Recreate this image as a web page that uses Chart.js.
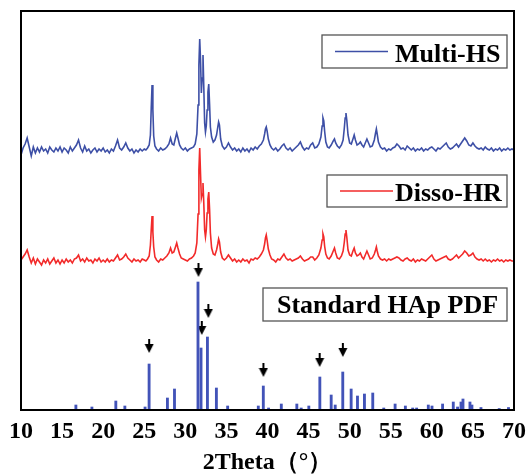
<!DOCTYPE html>
<html>
<head>
<meta charset="utf-8">
<script src="https://cdn.jsdelivr.net/npm/chart.js@4/dist/chart.umd.min.js"></script>
<style>
  html, body { margin: 0; padding: 0; background: #fff; overflow: hidden; }
  #wrap { width: 529px; height: 475px; }
</style>
</head>
<body>
<div id="wrap"><canvas id="xrd"></canvas></div>
<script>
// 2Theta grid shared by the two measured patterns (rows of ten)
const twoTheta = [
  10.0, 10.25, 10.5, 10.75, 11.0, 11.25, 11.5, 11.75, 12.0, 12.25,
  12.5, 12.75, 13.0, 13.25, 13.5, 13.75, 14.0, 14.25, 14.5, 14.75,
  15.0, 15.25, 15.5, 15.75, 16.0, 16.25, 16.5, 16.75, 17.0, 17.25,
  17.5, 17.75, 18.0, 18.25, 18.5, 18.75, 19.0, 19.25, 19.5, 19.75,
  20.0, 20.25, 20.5, 20.75, 21.0, 21.25, 21.5, 21.75, 22.0, 22.25,
  22.5, 22.75, 23.0, 23.25, 23.5, 23.75, 24.0, 24.25, 24.5, 24.75,
  25.0, 25.2, 25.4, 25.6, 25.75, 25.85, 25.95, 26.05, 26.15, 26.3,
  26.5, 26.75, 27.0, 27.25, 27.5, 27.75, 28.0, 28.2, 28.4, 28.6,
  28.8, 28.95, 29.1, 29.3, 29.5, 29.75, 30.0, 30.25, 30.5, 30.75,
  31.0, 31.2, 31.4, 31.55, 31.65, 31.75, 31.85, 31.95, 32.05, 32.15,
  32.25, 32.35, 32.45, 32.55, 32.65, 32.75, 32.85, 32.95, 33.05, 33.2,
  33.4, 33.6, 33.8, 33.95, 34.05, 34.15, 34.3, 34.5, 34.75, 35.0,
  35.25, 35.5, 35.75, 36.0, 36.25, 36.5, 36.75, 37.0, 37.25, 37.5,
  37.75, 38.0, 38.25, 38.5, 38.75, 39.0, 39.25, 39.5, 39.65, 39.75,
  39.85, 39.95, 40.1, 40.3, 40.5, 40.75, 41.0, 41.25, 41.5, 41.75,
  42.0, 42.25, 42.5, 42.75, 43.0, 43.25, 43.5, 43.75, 44.0, 44.25,
  44.5, 44.75, 45.0, 45.25, 45.5, 45.75, 46.0, 46.25, 46.5, 46.65,
  46.75, 46.85, 46.95, 47.1, 47.3, 47.5, 47.75, 48.0, 48.15, 48.3,
  48.5, 48.75, 49.0, 49.2, 49.35, 49.45, 49.55, 49.65, 49.8, 50.0,
  50.2, 50.4, 50.55, 50.7, 50.9, 51.1, 51.3, 51.5, 51.7, 51.9,
  52.1, 52.3, 52.5, 52.75, 53.0, 53.15, 53.25, 53.35, 53.5, 53.75,
  54.0, 54.25, 54.5, 54.75, 55.0, 55.25, 55.5, 55.75, 56.0, 56.25,
  56.5, 56.75, 57.0, 57.25, 57.5, 57.75, 58.0, 58.25, 58.5, 58.75,
  59.0, 59.25, 59.5, 59.75, 60.0, 60.25, 60.5, 60.75, 61.0, 61.25,
  61.5, 61.75, 62.0, 62.25, 62.5, 62.75, 63.0, 63.25, 63.5, 63.75,
  64.0, 64.25, 64.5, 64.75, 65.0, 65.25, 65.5, 65.75, 66.0, 66.25,
  66.5, 66.75, 67.0, 67.25, 67.5, 67.75, 68.0, 68.25, 68.5, 68.75,
  69.0, 69.25, 69.5, 69.75, 70.0
];

// Multi-HS pattern (offset intensity, a.u.)
const multiHS = [
  255, 262, 266, 272, 263, 254, 263, 257, 262, 258,
  263, 259, 261, 257, 263, 260, 258, 262, 259, 263,
  258, 262, 260, 257, 263, 259, 262, 265, 270, 262,
  258, 264, 259, 261, 257, 260, 262, 258, 261, 259,
  262, 258, 260, 257, 261, 259, 264, 270, 262, 260,
  263, 267, 262, 259, 261, 257, 260, 258, 261, 259,
  261, 260, 262, 265, 275, 302, 325, 300, 274, 264,
  261, 259, 262, 260, 261, 263, 266, 272, 266, 265,
  272, 277, 272, 265, 262, 260, 262, 259, 261, 262,
  263, 266, 276, 305, 345, 371, 350, 317, 332, 355,
  322, 287, 278, 284, 300, 318, 326, 306, 283, 273,
  268, 270, 275, 283, 288, 285, 271, 264, 261, 263,
  267, 263, 260, 262, 259, 261, 258, 262, 259, 261,
  258, 262, 260, 263, 261, 264, 266, 270, 276, 281,
  283, 279, 271, 265, 262, 260, 262, 259, 261, 264,
  266, 262, 260, 262, 259, 261, 263, 265, 268, 263,
  260, 262, 261, 265, 267, 262, 263, 266, 273, 284,
  292, 289, 279, 268, 263, 262, 265, 269, 271, 267,
  264, 262, 265, 270, 282, 292, 297, 290, 275, 267,
  266, 271, 275, 270, 265, 266, 268, 265, 263, 267,
  271, 267, 263, 264, 270, 277, 281, 276, 268, 263,
  261, 262, 259, 261, 260, 262, 263, 266, 264, 261,
  262, 260, 264, 262, 260, 262, 259, 261, 260, 262,
  259, 261, 260, 262, 263, 261, 259, 262, 261, 263,
  265, 267, 263, 261, 262, 264, 266, 263, 266, 269,
  272, 269, 265, 264, 267, 264, 262, 261, 262, 260,
  263, 261, 260, 262, 259, 261, 260, 262, 259, 261,
  260, 262, 260, 261, 260
];

// Disso-HR pattern (offset intensity, a.u.)
const dissoHR = [
  150, 153, 156, 160, 153, 147, 152, 146, 151, 148,
  145, 150, 147, 151, 146, 149, 152, 147, 150, 146,
  150, 147, 151, 148, 150, 147, 151, 152, 155, 149,
  151, 148, 152, 149, 150, 147, 151, 149, 152, 148,
  150, 148, 151, 148, 150, 149, 152, 155, 150, 151,
  153, 156, 152, 150, 148, 151, 149, 150, 148, 151,
  150, 149, 151, 154, 165, 180, 194, 178, 163, 153,
  150, 148, 151, 150, 152, 154, 157, 162, 157, 158,
  163, 167, 162, 156, 152, 151, 150, 149, 151, 152,
  154, 157, 167, 196, 240, 262, 236, 212, 216, 227,
  206, 180, 173, 180, 197, 211, 218, 201, 177, 162,
  156, 155, 160, 166, 171, 168, 158, 152, 150, 152,
  155, 152, 149, 151, 148, 150, 148, 151, 149, 150,
  147, 151, 150, 152, 151, 153, 156, 160, 166, 172,
  175, 170, 161, 155, 151, 150, 148, 151, 150, 153,
  156, 152, 150, 151, 149, 150, 151, 152, 154, 151,
  149, 150, 151, 153, 153, 150, 152, 155, 162, 170,
  176, 173, 164, 156, 152, 151, 154, 159, 162, 157,
  152, 151, 154, 159, 168, 176, 180, 173, 160, 155,
  154, 159, 162, 157, 154, 155, 157, 153, 151, 155,
  159, 155, 151, 152, 156, 160, 163, 159, 154, 151,
  150, 151, 149, 151, 150, 151, 152, 153, 152, 150,
  149, 151, 152, 150, 149, 151, 148, 150, 149, 151,
  150, 149, 151, 153, 155, 151, 149, 150, 151, 152,
  153, 154, 151, 150, 151, 153, 155, 152, 154, 156,
  159, 157, 154, 155, 157, 153, 151, 150, 151, 149,
  151, 149, 150, 148, 150, 149, 151, 149, 150, 148,
  150, 149, 150, 149, 149
];

// Standard HAp PDF stick pattern
const pdfTheta = [16.68, 18.63, 21.54, 22.64, 25.10, 25.59, 27.82, 28.68, 31.54, 31.91,
  32.69, 33.78, 35.15, 38.88, 39.49, 40.13, 41.68, 43.57, 44.10, 45.03,
  46.37, 47.75, 48.24, 49.16, 50.18, 50.95, 51.80, 52.81, 54.15, 55.53,
  56.78, 57.67, 58.15, 59.57, 60.02, 61.31, 62.61, 63.13, 63.55, 63.79,
  64.64, 64.88, 65.98, 68.20, 69.33];
const pdfIntensity = [5, 3, 9, 4, 3, 46, 12, 21, 128, 62,
  73, 22, 4, 4, 24, 2, 6, 6, 2, 4,
  33, 15, 5, 38, 21, 14, 16, 17, 2, 6,
  4, 2, 2, 5, 4, 6, 8, 3, 8, 11,
  8, 5, 2.5, 1.5, 2.5];

// marked HAp reflections (arrow tips)
const markTheta = [25.6, 31.6, 32.0, 32.8, 39.5, 46.35, 49.17];
const markLevel = [57, 133, 75, 92, 33, 43, 53];

const BLUE = '#3d4fa6';
const RED = '#f22a2a';
const STICK = '#4253b8';
const SERIF = '"Liberation Serif", "Times New Roman", serif';

// down arrow glyph, tip sits at the canvas centre
const arrow = document.createElement('canvas');
arrow.width = 10;
arrow.height = 28;
const g = arrow.getContext('2d');
g.fillStyle = '#000';
g.fillRect(4, 0, 2, 6);
g.beginPath();
g.moveTo(0.5, 5);
g.lineTo(9.5, 5);
g.lineTo(5, 14);
g.closePath();
g.fill();

const pairs = (xs, ys) => xs.map((x, i) => ({ x: x, y: ys[i] }));

const boxes = {
  id: 'boxes',
  afterDraw(chart) {
    const ctx = chart.ctx;
    const a = chart.chartArea;
    ctx.save();
    ctx.strokeStyle = '#000';
    ctx.lineWidth = 2;
    ctx.strokeRect(a.left, a.top, a.right - a.left, a.bottom - a.top);

    const legendBox = (x, y, w, h, label, color, tx, ty) => {
      ctx.fillStyle = '#fff';
      ctx.fillRect(x, y, w, h);
      ctx.strokeStyle = '#555';
      ctx.lineWidth = 1.3;
      ctx.strokeRect(x, y, w, h);
      if (color) {
        ctx.strokeStyle = color;
        ctx.lineWidth = 1.5;
        ctx.beginPath();
        ctx.moveTo(x + 13, y + h / 2);
        ctx.lineTo(x + 66, y + h / 2);
        ctx.stroke();
      }
      ctx.fillStyle = '#000';
      ctx.font = 'bold 26px ' + SERIF;
      ctx.textBaseline = 'alphabetic';
      ctx.textAlign = 'left';
      ctx.fillText(label, tx, ty);
    };
    legendBox(322, 35, 185, 33, 'Multi-HS', BLUE, 395, 62);
    legendBox(327, 175, 180, 32, 'Disso-HR', RED, 395, 201);
    legendBox(263, 288, 244, 33, 'Standard HAp PDF', null, 277, 313);
    ctx.restore();
  }
};

new Chart(document.getElementById('xrd'), {
  type: 'line',
  data: {
    datasets: [
      {
        label: 'Multi-HS',
        data: pairs(twoTheta, multiHS),
        borderColor: BLUE,
        borderWidth: 1.6,
        pointRadius: 0,
        tension: 0
      },
      {
        label: 'Disso-HR',
        data: pairs(twoTheta, dissoHR),
        borderColor: RED,
        borderWidth: 1.6,
        pointRadius: 0,
        tension: 0
      },
      {
        type: 'bar',
        label: 'Standard HAp PDF',
        data: pairs(pdfTheta, pdfIntensity),
        backgroundColor: STICK,
        barThickness: 2.2
      },
      {
        type: 'scatter',
        label: 'marks',
        data: pairs(markTheta, markLevel),
        pointStyle: arrow,
        pointRadius: 5
      }
    ]
  },
  options: {
    responsive: true,
    maintainAspectRatio: false,
    animation: false,
    layout: { padding: { left: 21, right: 15, top: 11, bottom: 0 } },
    plugins: {
      legend: { display: false },
      tooltip: { enabled: false }
    },
    scales: {
      x: {
        type: 'linear',
        min: 10,
        max: 70,
        offset: false,
        grid: { display: false, drawTicks: true, tickLength: 6 },
        border: { display: false },
        ticks: {
          stepSize: 5,
          autoSkip: false,
          maxRotation: 0,
          padding: 3,
          color: '#000',
          font: { family: SERIF, size: 24, weight: 'bold', lineHeight: 1.1 }
        },
        title: {
          display: true,
          text: '2Theta（°）',
          color: '#000',
          padding: { top: 2.6, bottom: 0 },
          font: { family: SERIF, size: 24, weight: 'bold', lineHeight: 1 }
        }
      },
      y: {
        display: false,
        min: 0,
        max: 399
      }
    }
  },
  plugins: [boxes]
});
</script>
</body>
</html>
